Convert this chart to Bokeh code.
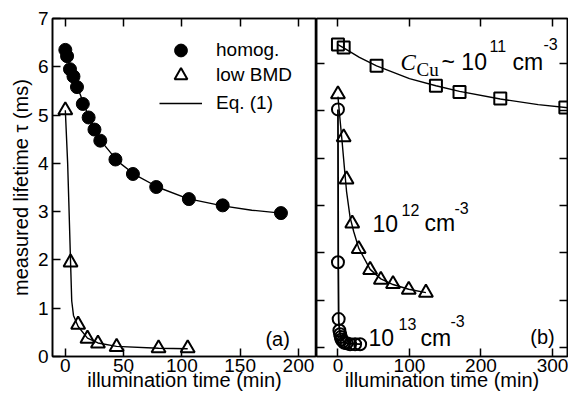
from bokeh.plotting import figure
from bokeh.models import Range1d, FixedTicker, LinearAxis, Legend, LegendItem, Label
from bokeh.layouts import row
from bokeh.embed import file_html
from bokeh.resources import INLINE

# ---------------- data ----------------
# panel (a)
homog_t = [0, 1.5, 4, 7, 10, 15, 20, 25, 30, 43, 58, 78, 106, 135, 185]
homog_tau = [6.35, 6.22, 5.95, 5.8, 5.58, 5.23, 4.95, 4.7, 4.47, 4.08, 3.78, 3.51, 3.26, 3.13, 2.97]
homog_fit_t = [0, 5, 10, 20, 30, 45, 60, 80, 105, 135, 160, 185]
homog_fit_tau = [6.35, 5.92, 5.6, 4.97, 4.48, 4.04, 3.76, 3.5, 3.27, 3.12, 3.03, 2.97]

bmd_t = [0, 4.5, 11, 19, 28, 44, 80, 105]
bmd_tau = [5.1, 1.95, 0.66, 0.37, 0.27, 0.2, 0.17, 0.17]
bmd_fit_t = [0, 2, 3, 4.5, 5.5, 7, 11, 19, 28, 44, 80, 105]
bmd_fit_tau = [5.1, 4.0, 3.2, 1.95, 1.15, 0.85, 0.62, 0.38, 0.28, 0.21, 0.17, 0.16]

# panel (b)
cu11_t = [0, 8, 54, 137, 170, 227, 318]
cu11_tau = [6.4, 6.34, 5.95, 5.53, 5.4, 5.26, 5.07]
cu11_fit_t = [0, 8, 30, 54, 100, 137, 170, 227, 280, 330]
cu11_fit_tau = [6.4, 6.33, 6.13, 5.95, 5.68, 5.53, 5.41, 5.25, 5.13, 5.05]

cu12_t = [0, 8, 12, 20, 29, 45, 60, 77, 99, 123]
cu12_tau = [5.35, 4.44, 3.55, 2.62, 2.08, 1.64, 1.43, 1.34, 1.22, 1.16]
cu12_fit_t = [0, 3, 5.5, 9, 12, 17, 22, 29, 45, 60, 77, 99, 123]
cu12_fit_tau = [5.3, 4.8, 4.4, 3.8, 3.3, 2.75, 2.45, 2.1, 1.65, 1.45, 1.33, 1.23, 1.16]

cu13_t = [0, 0, 1, 2, 3, 4, 5, 7, 9, 12, 17, 24, 31]
cu13_tau = [5.03, 1.8, 0.6, 0.36, 0.28, 0.22, 0.17, 0.13, 0.1, 0.09, 0.07, 0.07, 0.07]
cu13_fit_t = [0, 0.4, 1, 2, 4, 8, 15, 31]
cu13_fit_tau = [5.03, 1.8, 0.6, 0.38, 0.22, 0.12, 0.08, 0.07]

xticks_a = [0, 50, 100, 150, 200]
xticks_b = [0, 100, 200, 300]
yticks = [0, 1, 2, 3, 4, 5, 6, 7]

FONT = "Liberation Sans"
SERIF = "Liberation Serif"
H = 393
TOP = 18
FRAME_BOTTOM = 355   # expected frame bottom (px from top)


def style_axis(ax, ticks, show_labels, standoff=2):
    ax.ticker = FixedTicker(ticks=ticks)
    ax.major_tick_in = 8
    ax.major_tick_out = 0
    ax.minor_tick_in = 0
    ax.minor_tick_out = 0
    ax.axis_line_color = "black"
    ax.axis_line_width = 1.5
    ax.major_tick_line_color = "black"
    ax.major_tick_line_width = 1.5
    if show_labels:
        ax.major_label_text_font = FONT
        ax.major_label_text_font_size = "19px"
        ax.major_label_text_color = "black"
        ax.major_label_standoff = standoff
    else:
        ax.major_label_overrides = {t: "" for t in ticks}
        ax.major_label_text_font_size = "1px"
        ax.major_label_standoff = 0
        ax.axis_label = None


def title_axis(ax, text, standoff):
    ax.axis_label = text
    ax.axis_label_text_font = FONT
    ax.axis_label_text_font_size = "20px"
    ax.axis_label_text_font_style = "normal"
    ax.axis_label_text_color = "black"
    ax.axis_label_standoff = standoff


def base_fig(width, xr, yr, mbl, mbr):
    p = figure(width=width, height=H, x_range=Range1d(*xr), y_range=Range1d(*yr),
               output_backend="svg", toolbar_location=None,
               min_border_left=mbl, min_border_right=mbr,
               min_border_top=TOP, min_border_bottom=0)
    p.xgrid.visible = False
    p.ygrid.visible = False
    p.outline_line_color = "black"
    p.outline_line_width = 1.6
    p.background_fill_color = "white"
    p.border_fill_color = "white"
    return p


# ---------------- panel (a) ----------------
pa = base_fig(316, (-11, 215.5), (0, 7), 52, 0)
style_axis(pa.xaxis[0], xticks_a, True, 2)
title_axis(pa.xaxis[0], "illumination time (min)", -6)
style_axis(pa.yaxis[0], yticks, True, 4)
title_axis(pa.yaxis[0], "measured lifetime τ (ms)", 3)
ax_top_a = LinearAxis()
style_axis(ax_top_a, xticks_a, False)
pa.add_layout(ax_top_a, "above")

r_hfit = pa.line(homog_fit_t, homog_fit_tau, line_color="black", line_width=1.4)
pa.line(bmd_fit_t, bmd_fit_tau, line_color="black", line_width=1.4)
r_h = pa.scatter(homog_t, homog_tau, marker="circle", size=13,
                 fill_color="black", line_color="black", line_width=1)
r_l = pa.scatter(bmd_t, bmd_tau, marker="triangle", size=14,
                 fill_color=None, line_color="black", line_width=2)

# one legend per row, so that each row sits exactly where the reference has it
for lbl, rend, center in [("homog.", r_h, 49), ("low BMD", r_l, 74), ("Eq. (1)", r_hfit, 102)]:
    lg = Legend(items=[LegendItem(label=lbl, renderers=[rend])],
                location=(107, FRAME_BOTTOM - (center + 16)), padding=0, margin=0, spacing=0,
                glyph_width=43, glyph_height=32, label_standoff=14,
                label_text_font=FONT, label_text_font_size="19px", label_text_color="black",
                border_line_alpha=0, background_fill_alpha=0)
    pa.add_layout(lg)

pa.add_layout(Label(x=171.7, y=0.37, text="(a)", text_font=FONT, text_font_size="20px",
                    text_color="black", text_baseline="alphabetic", text_align="left"))

# ---------------- panel (b) ----------------
pb = base_fig(252, (-30, 321), (-0.19, 6.95), 0, 1)
style_axis(pb.xaxis[0], xticks_b, True, 2)
title_axis(pb.xaxis[0], "illumination time (min)", -6)
style_axis(pb.yaxis[0], yticks, False)
ax_top_b = LinearAxis()
style_axis(ax_top_b, xticks_b, False)
pb.add_layout(ax_top_b, "above")
ax_right_b = LinearAxis()
style_axis(ax_right_b, yticks, False)
pb.add_layout(ax_right_b, "right")

pb.line(cu11_fit_t, cu11_fit_tau, line_color="black", line_width=1.4)
pb.line(cu12_fit_t, cu12_fit_tau, line_color="black", line_width=1.4)
pb.line(cu13_fit_t, cu13_fit_tau, line_color="black", line_width=1.8)
pb.scatter(cu11_t, cu11_tau, marker="square", size=12,
           fill_color=None, line_color="black", line_width=2)
pb.scatter(cu12_t, cu12_tau, marker="triangle", size=14,
           fill_color=None, line_color="black", line_width=2)
pb.scatter(cu13_t, cu13_tau, marker="circle", size=12,
           fill_color=None, line_color="black", line_width=2)


def lab(x, y, text, size, dx=0, dy=0, font=FONT, style="normal"):
    pb.add_layout(Label(x=x, y=y, text=text, text_font=font, text_font_size=size,
                        text_font_style=style, text_color="black",
                        text_baseline="alphabetic", text_align="left",
                        x_offset=dx, y_offset=dy))


# C_Cu ~ 10^11 cm^-3
cx, cy = 87.5, 6.03
lab(cx, cy, "C", "23px", font=SERIF, style="italic")
lab(cx, cy, "Cu", "19px", dx=16, dy=-7, font=SERIF)
lab(cx, cy, "~ 10", "23px", dx=41)
lab(cx, cy, "11", "16px", dx=89, dy=16)
lab(cx, cy, "cm", "23px", dx=112)
lab(cx, cy, "-3", "16px", dx=143, dy=18)

# 10^12 cm^-3
ax2, ay2 = 48.3, 2.62
lab(ax2, ay2, "10", "23px")
lab(ax2, ay2, "12", "16px", dx=29, dy=13)
lab(ax2, ay2, "cm", "23px", dx=52)
lab(ax2, ay2, "-3", "16px", dx=82, dy=15)

# 10^13 cm^-3
ax3, ay3 = 42.7, 0.206
lab(ax3, ay3, "10", "23px")
lab(ax3, ay3, "13", "16px", dx=30, dy=14)
lab(ax3, ay3, "cm", "23px", dx=52)
lab(ax3, ay3, "-3", "16px", dx=82, dy=17)

lab(269, 0.225, "(b)", "20px")

layout = row(pa, pb)
open("out.html", "w").write(file_html(layout, INLINE))
